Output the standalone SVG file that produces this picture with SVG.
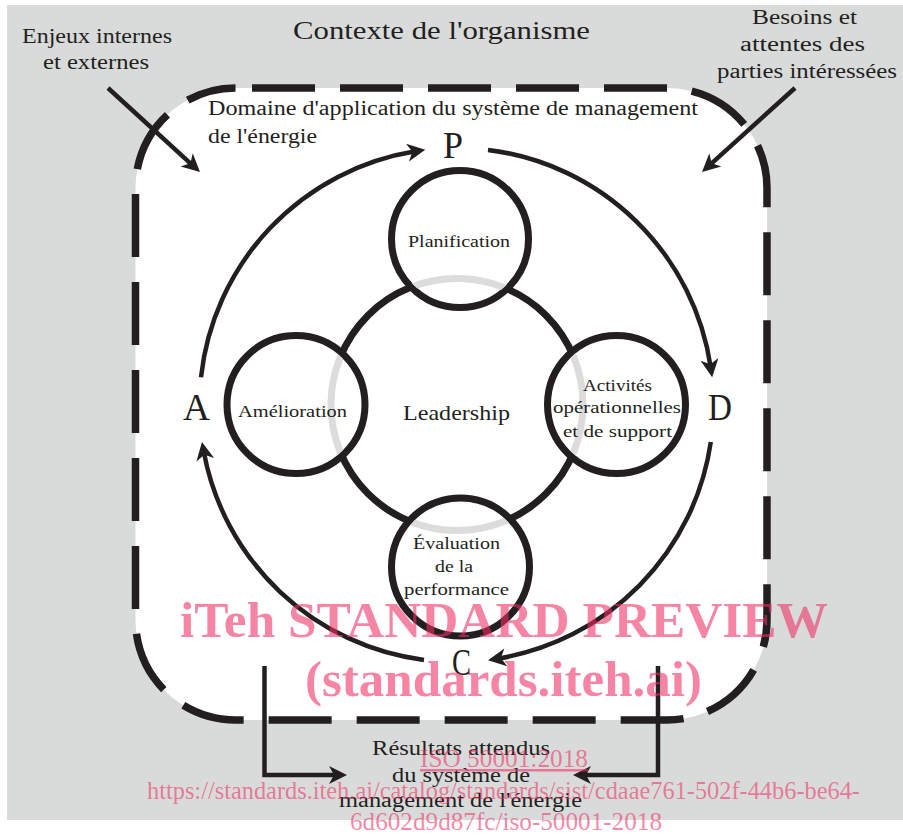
<svg xmlns="http://www.w3.org/2000/svg" width="903" height="836" viewBox="0 0 903 836" font-family="'Liberation Serif', 'Times New Roman', serif">
  <style>
    text { font-family: "Liberation Serif", "Times New Roman", serif; fill: #231f20; }
    .lbl { font-size: 20px; }
    .sm { font-size: 17.5px; }
    .big { font-size: 38px; }
    .ring { fill: #ffffff; stroke: #231f20; stroke-width: 7; }
    .conn { fill: none; stroke: #231f20; stroke-width: 4.5; }
    .wm { fill: rgb(240,45,100); fill-opacity: 0.58; font-family: "Liberation Serif", "Times New Roman", serif; }
  </style>
  <defs>
    <marker id="ah" markerUnits="userSpaceOnUse" markerWidth="18" markerHeight="18" viewBox="0 0 18 18" refX="8" refY="9" orient="auto" overflow="visible">
      <path d="M0,0 L18,9 L0,18 L5,9 Z" fill="#231f20"/>
    </marker>
    <clipPath id="inner">
      <circle cx="460" cy="239" r="65.5"/>
      <circle cx="460.5" cy="567" r="65.5"/>
      <circle cx="296" cy="404.5" r="65.5"/>
      <circle cx="616.5" cy="404.5" r="65.5"/>
    </clipPath>
  </defs>

  <g id="contexte">
    <rect x="7" y="5" width="896" height="815" fill="#d9dbda"/>
    <text x="293" y="39" style="font-size:25px" textLength="297" lengthAdjust="spacingAndGlyphs">Contexte de l'organisme</text>
  </g>

  <g id="domaine">
    <rect x="135.5" y="88" width="631.5" height="632" rx="100" ry="100" fill="#ffffff" stroke="#231f20" stroke-width="7.5" stroke-dasharray="63 25" stroke-dashoffset="-16.5"/>
    <text class="lbl" x="208" y="115" textLength="490" lengthAdjust="spacingAndGlyphs">Domaine d'application du système de management</text>
    <text class="lbl" x="208" y="142.5" textLength="109" lengthAdjust="spacingAndGlyphs">de l'énergie</text>
  </g>

  <g id="leadership">
    <circle cx="457" cy="404.5" r="126" fill="none" stroke="#231f20" stroke-width="7"/>
  </g>
  <g id="planification">
    <circle class="ring" cx="460" cy="239" r="68.5"/>
  </g>
  <g id="evaluation">
    <circle class="ring" cx="460.5" cy="567" r="69"/>
  </g>
  <g id="amelioration">
    <circle class="ring" cx="296" cy="404.5" r="69"/>
  </g>
  <g id="activites">
    <circle class="ring" cx="616.5" cy="404.5" r="69"/>
  </g>
  <g id="leadership-overlap">
    <circle cx="457" cy="404.5" r="126" fill="none" stroke="#dcdcdc" stroke-width="7" clip-path="url(#inner)"/>
  </g>

  <g id="labels-circles">
    <text class="sm" x="408" y="247" textLength="102" lengthAdjust="spacingAndGlyphs">Planification</text>
    <text class="sm" x="238" y="417" textLength="109" lengthAdjust="spacingAndGlyphs">Amélioration</text>
    <text x="403" y="420" style="font-size:21px" textLength="107" lengthAdjust="spacingAndGlyphs">Leadership</text>
    <text class="sm" x="583" y="391" textLength="69" lengthAdjust="spacingAndGlyphs">Activités</text>
    <text class="sm" x="553" y="413" textLength="128" lengthAdjust="spacingAndGlyphs">opérationnelles</text>
    <text class="sm" x="563" y="437" textLength="109" lengthAdjust="spacingAndGlyphs">et de support</text>
    <text class="sm" x="413" y="549" textLength="87" lengthAdjust="spacingAndGlyphs">Évaluation</text>
    <text class="sm" x="435" y="572" textLength="38" lengthAdjust="spacingAndGlyphs">de la</text>
    <text class="sm" x="404" y="595" textLength="105" lengthAdjust="spacingAndGlyphs">performance</text>
  </g>

  <g id="pdca">
    <text class="big" x="443" y="158" textLength="20" lengthAdjust="spacingAndGlyphs">P</text>
    <text class="big" x="708" y="420" textLength="24" lengthAdjust="spacingAndGlyphs">D</text>
    <text class="big" x="452" y="675" textLength="19" lengthAdjust="spacingAndGlyphs">C</text>
    <text class="big" x="183" y="420" textLength="27" lengthAdjust="spacingAndGlyphs">A</text>
  </g>

  <g id="entrees">
    <text class="lbl" x="22" y="42.5" textLength="150" lengthAdjust="spacingAndGlyphs">Enjeux internes</text>
    <text class="lbl" x="43" y="69" textLength="106" lengthAdjust="spacingAndGlyphs">et externes</text>
    <text class="lbl" x="752" y="24" textLength="105" lengthAdjust="spacingAndGlyphs">Besoins et</text>
    <text class="lbl" x="740" y="51" textLength="125" lengthAdjust="spacingAndGlyphs">attentes des</text>
    <text class="lbl" x="717" y="77.5" textLength="180" lengthAdjust="spacingAndGlyphs">parties intéressées</text>
  </g>

  <g id="resultats">
    <text class="lbl" x="372" y="755" textLength="178" lengthAdjust="spacingAndGlyphs">Résultats attendus</text>
    <text class="lbl" x="392" y="782" textLength="138" lengthAdjust="spacingAndGlyphs">du système de</text>
    <text class="lbl" x="339" y="807" textLength="243" lengthAdjust="spacingAndGlyphs">management de l'énergie</text>
  </g>

  <g id="connecteurs">
    <path class="conn" d="M201,377.2 A257,257 0 0 1 415.4,151.3" marker-end="url(#ah)"/>
    <path class="conn" d="M488,149.9 A257,257 0 0 1 710.7,367.3" marker-end="url(#ah)"/>
    <path class="conn" d="M710.8,442 A257,257 0 0 1 497.9,658.6" marker-end="url(#ah)"/>
    <path class="conn" d="M424,659.9 A257,257 0 0 1 203.8,451.9" marker-end="url(#ah)"/>
    <path class="conn" d="M108,88 L192.6,165.3" marker-end="url(#ah)"/>
    <path class="conn" d="M795,88 L709.4,165.3" marker-end="url(#ah)"/>
    <path class="conn" stroke-width="5.5" d="M264.5,666 L264.5,775 L337,775" marker-end="url(#ah)"/>
    <path class="conn" stroke-width="5.5" d="M658,666 L658,775 L583,775" marker-end="url(#ah)"/>
  </g>

  <g id="filigrane">
    <text class="wm" x="180" y="637" font-weight="bold" style="font-size:50px" textLength="648" lengthAdjust="spacingAndGlyphs">iTeh STANDARD PREVIEW</text>
    <text class="wm" x="305" y="696" font-weight="bold" style="font-size:50px" textLength="397" lengthAdjust="spacingAndGlyphs">(standards.iteh.ai)</text>
    <text class="wm" x="420" y="767" style="font-size:25px" text-decoration="underline" textLength="168" lengthAdjust="spacingAndGlyphs">ISO 50001:2018</text>
    <text class="wm" x="147" y="799" style="font-size:25px" textLength="713" lengthAdjust="spacingAndGlyphs">https://standards.iteh.ai/catalog/standards/sist/cdaae761-502f-44b6-be64-</text>
    <text class="wm" x="350" y="830" style="font-size:25px" textLength="312" lengthAdjust="spacingAndGlyphs">6d602d9d87fc/iso-50001-2018</text>
  </g>
</svg>
